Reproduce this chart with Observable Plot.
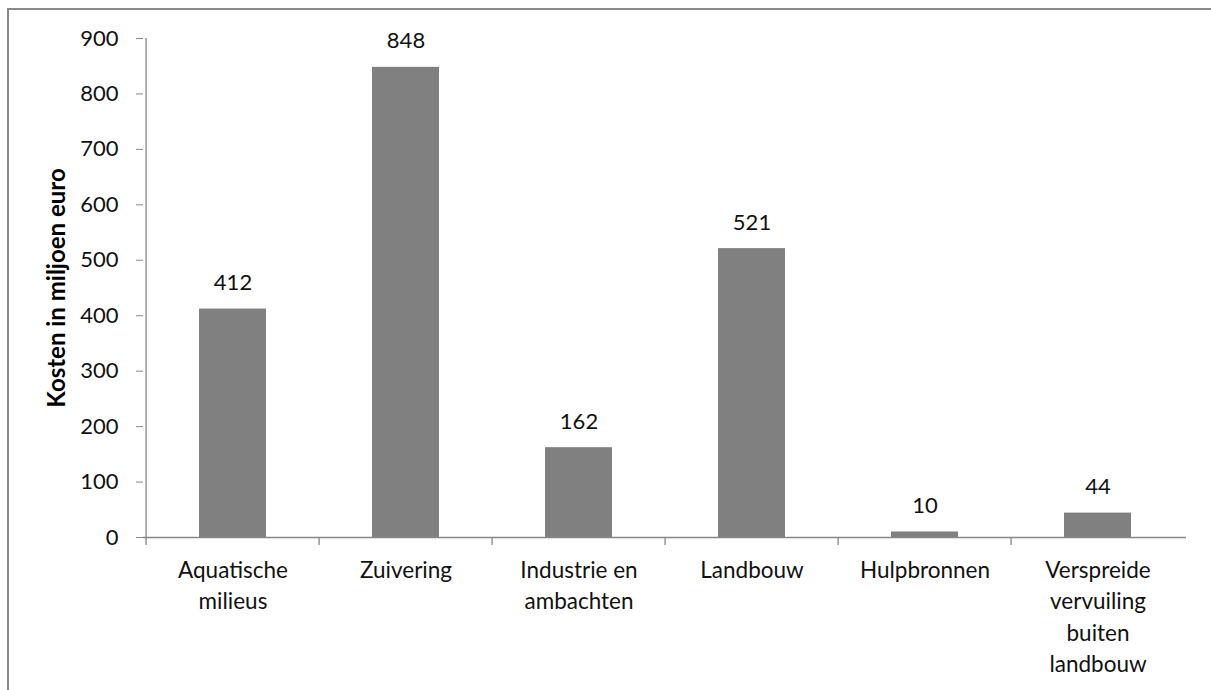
<!DOCTYPE html>
<html>
<head>
<meta charset="utf-8">
<script src="https://cdn.jsdelivr.net/npm/d3@7"></script>
<script src="https://cdn.jsdelivr.net/npm/@observablehq/plot@0.6"></script>
<style>
  html, body { margin: 0; padding: 0; background: #fff; }
  #wrap { position: relative; width: 1211px; height: 690px; overflow: hidden; }
  #wrap svg { display: block; }
  #border { position: absolute; left: 7px; top: 8px; width: 1300px; height: 800px;
            border-left: 2.5px solid #8a8a8a; border-top: 2.5px solid #8a8a8a; pointer-events: none; }
</style>
</head>
<body>
<div id="wrap"><div id="border"></div></div>
<script>
const categories = ["Aquatische milieus", "Zuivering", "Industrie en ambachten", "Landbouw", "Hulpbronnen", "Verspreide vervuiling buiten landbouw"];
const categoryLabels = ["Aquatische\nmilieus", "Zuivering", "Industrie en\nambachten", "Landbouw", "Hulpbronnen", "Verspreide\nvervuiling\nbuiten\nlandbouw"];
const values = [412, 848, 162, 521, 10, 44];
const yTicks = [0, 100, 200, 300, 400, 500, 600, 700, 800, 900];
const yTitle = "Kosten in miljoen euro";

const data = categories.map((c, i) => ({cat: c, label: categoryLabels[i], value: values[i]}));

const W = 1211, H = 690, ML = 143, MR = 25, MT = 38, MB = 153;
const step = (W - ML - MR) / categories.length;
const axisColor = "#868686";
const font = "Lato, 'Open Sans', sans-serif";

const chart = Plot.plot({
  width: W, height: H,
  marginLeft: ML, marginRight: MR, marginTop: MT, marginBottom: MB,
  style: {fontFamily: font, fontSize: "22px", color: "#111", background: "transparent", overflow: "visible"},
  x: {domain: categories, paddingInner: 0.615, paddingOuter: 0.3075, axis: null},
  y: {domain: [0, 900], axis: null},
  marks: [
    Plot.barY(data, {x: "cat", y: "value", fill: "#808080"}),
    Plot.ruleY([0], {stroke: axisColor, strokeWidth: 1.3}),
    // y axis line + leftmost x tick
    Plot.ruleX([categories[0]], {dx: -step / 2, stroke: axisColor, strokeWidth: 1.3, insetBottom: -8}),
    // other x tick marks at band boundaries
    Plot.ruleX(categories.slice(1), {dx: -step / 2, stroke: axisColor, strokeWidth: 1.3, insetTop: H - MT - MB, insetBottom: -8}),
    Plot.axisY({ticks: yTicks, tickSize: 7, tickPadding: 18, stroke: axisColor, fill: "#111", label: null, fontSize: 22}),
    Plot.text(data, {x: "cat", y: "value", text: d => String(d.value), dy: -19, lineAnchor: "bottom", fontSize: 22, fill: "#111"}),
    Plot.text(data, {x: "cat", y: 0, text: "label", lineAnchor: "top", dy: 18, lineHeight: 1.4, fontSize: 22.5, fill: "#111"}),
    Plot.text([yTitle], {frameAnchor: "left", text: d => d, rotate: -90, dx: -86, textAnchor: "middle", fontWeight: "bold", fontSize: 24, fill: "#000"})
  ]
});
document.getElementById("wrap").prepend(chart);
</script>
</body>
</html>
